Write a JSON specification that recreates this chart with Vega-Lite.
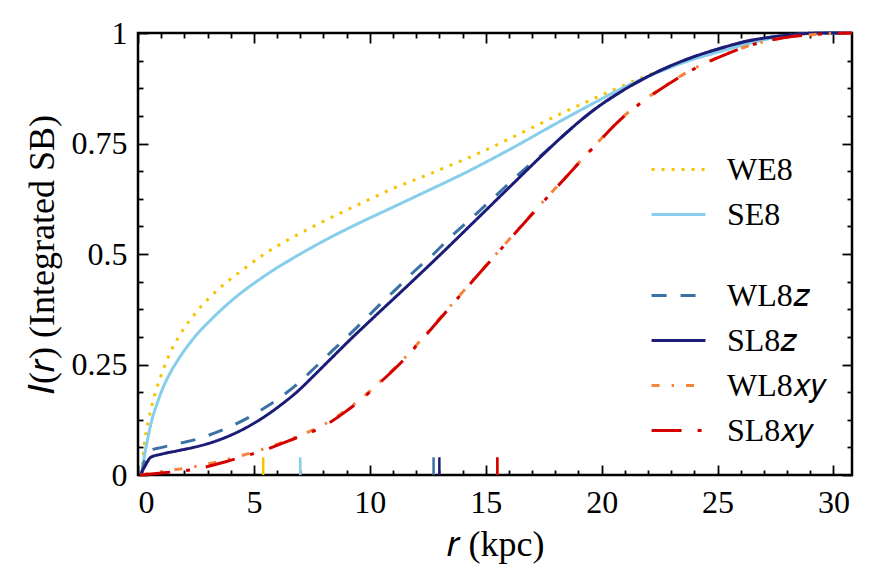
{
  "$schema": "https://vega.github.io/schema/vega-lite/v6.json",
  "description": "Integrated surface brightness I(r) versus radius for six galaxy models",
  "autosize": "none",
  "width": 714,
  "height": 442,
  "padding": {"left": 138, "top": 33, "right": 18, "bottom": 112},
  "background": "#ffffff",
  "datasets": {
    "curves": [
      {"series": "WE8", "r": 0.15, "I": 0},
      {"series": "WE8", "r": 0.3, "I": 0.08},
      {"series": "WE8", "r": 0.45, "I": 0.124},
      {"series": "WE8", "r": 0.6, "I": 0.158},
      {"series": "WE8", "r": 0.8, "I": 0.195},
      {"series": "WE8", "r": 1.1, "I": 0.24},
      {"series": "WE8", "r": 1.4, "I": 0.278},
      {"series": "WE8", "r": 1.82, "I": 0.318},
      {"series": "WE8", "r": 2.54, "I": 0.37},
      {"series": "WE8", "r": 3.55, "I": 0.424},
      {"series": "WE8", "r": 4.56, "I": 0.466},
      {"series": "WE8", "r": 5.45, "I": 0.5},
      {"series": "WE8", "r": 6.44, "I": 0.531},
      {"series": "WE8", "r": 8.0, "I": 0.574},
      {"series": "WE8", "r": 9.75, "I": 0.618},
      {"series": "WE8", "r": 11.0, "I": 0.648},
      {"series": "WE8", "r": 12.38, "I": 0.677},
      {"series": "WE8", "r": 14.83, "I": 0.731},
      {"series": "WE8", "r": 16.5, "I": 0.773},
      {"series": "WE8", "r": 18.35, "I": 0.82},
      {"series": "WE8", "r": 19.93, "I": 0.858},
      {"series": "WE8", "r": 21.51, "I": 0.894},
      {"series": "WE8", "r": 22.9, "I": 0.923},
      {"series": "WE8", "r": 24.3, "I": 0.948},
      {"series": "WE8", "r": 25.5, "I": 0.966},
      {"series": "WE8", "r": 26.5, "I": 0.98},
      {"series": "WE8", "r": 27.5, "I": 0.99},
      {"series": "WE8", "r": 28.5, "I": 0.997},
      {"series": "WE8", "r": 29.5, "I": 1},
      {"series": "WE8", "r": 30.8, "I": 1},

      {"series": "SE8", "r": 0.15, "I": 0},
      {"series": "SE8", "r": 0.3, "I": 0.05},
      {"series": "SE8", "r": 0.45, "I": 0.09},
      {"series": "SE8", "r": 0.6, "I": 0.125},
      {"series": "SE8", "r": 0.8, "I": 0.158},
      {"series": "SE8", "r": 1.1, "I": 0.2},
      {"series": "SE8", "r": 1.4, "I": 0.232},
      {"series": "SE8", "r": 1.82, "I": 0.268},
      {"series": "SE8", "r": 2.54, "I": 0.318},
      {"series": "SE8", "r": 3.2, "I": 0.354},
      {"series": "SE8", "r": 3.98, "I": 0.392},
      {"series": "SE8", "r": 5.42, "I": 0.449},
      {"series": "SE8", "r": 7.0, "I": 0.5},
      {"series": "SE8", "r": 8.17, "I": 0.534},
      {"series": "SE8", "r": 9.5, "I": 0.569},
      {"series": "SE8", "r": 11.0, "I": 0.606},
      {"series": "SE8", "r": 12.21, "I": 0.636},
      {"series": "SE8", "r": 14.2, "I": 0.686},
      {"series": "SE8", "r": 16.05, "I": 0.737},
      {"series": "SE8", "r": 18.2, "I": 0.8},
      {"series": "SE8", "r": 19.64, "I": 0.841},
      {"series": "SE8", "r": 21.08, "I": 0.88},
      {"series": "SE8", "r": 22.52, "I": 0.913},
      {"series": "SE8", "r": 23.8, "I": 0.938},
      {"series": "SE8", "r": 24.97, "I": 0.956},
      {"series": "SE8", "r": 26.4, "I": 0.977},
      {"series": "SE8", "r": 27.5, "I": 0.99},
      {"series": "SE8", "r": 28.5, "I": 0.997},
      {"series": "SE8", "r": 29.5, "I": 1},
      {"series": "SE8", "r": 30.8, "I": 1},

      {"series": "WL8𝑧", "r": 0.15, "I": 0},
      {"series": "WL8𝑧", "r": 0.3, "I": 0.035},
      {"series": "WL8𝑧", "r": 0.52, "I": 0.055},
      {"series": "WL8𝑧", "r": 1.0, "I": 0.062},
      {"series": "WL8𝑧", "r": 1.82, "I": 0.072},
      {"series": "WL8𝑧", "r": 2.6, "I": 0.082},
      {"series": "WL8𝑧", "r": 3.26, "I": 0.094},
      {"series": "WL8𝑧", "r": 4.0, "I": 0.11},
      {"series": "WL8𝑧", "r": 4.7, "I": 0.128},
      {"series": "WL8𝑧", "r": 5.4, "I": 0.15},
      {"series": "WL8𝑧", "r": 6.15, "I": 0.176},
      {"series": "WL8𝑧", "r": 6.9, "I": 0.207},
      {"series": "WL8𝑧", "r": 7.59, "I": 0.241},
      {"series": "WL8𝑧", "r": 8.3, "I": 0.277},
      {"series": "WL8𝑧", "r": 9.03, "I": 0.313},
      {"series": "WL8𝑧", "r": 9.75, "I": 0.35},
      {"series": "WL8𝑧", "r": 10.48, "I": 0.388},
      {"series": "WL8𝑧", "r": 11.2, "I": 0.424},
      {"series": "WL8𝑧", "r": 11.92, "I": 0.461},
      {"series": "WL8𝑧", "r": 12.75, "I": 0.5},
      {"series": "WL8𝑧", "r": 13.46, "I": 0.537},
      {"series": "WL8𝑧", "r": 14.47, "I": 0.585},
      {"series": "WL8𝑧", "r": 15.4, "I": 0.63},
      {"series": "WL8𝑧", "r": 16.4, "I": 0.679},
      {"series": "WL8𝑧", "r": 17.63, "I": 0.734},
      {"series": "WL8𝑧", "r": 18.2, "I": 0.761},
      {"series": "WL8𝑧", "r": 19.64, "I": 0.825},
      {"series": "WL8𝑧", "r": 21.08, "I": 0.875},
      {"series": "WL8𝑧", "r": 22.52, "I": 0.915},
      {"series": "WL8𝑧", "r": 23.96, "I": 0.946},
      {"series": "WL8𝑧", "r": 24.97, "I": 0.963},
      {"series": "WL8𝑧", "r": 26.4, "I": 0.983},
      {"series": "WL8𝑧", "r": 27.84, "I": 0.994},
      {"series": "WL8𝑧", "r": 28.56, "I": 0.998},
      {"series": "WL8𝑧", "r": 29.5, "I": 1},
      {"series": "WL8𝑧", "r": 30.8, "I": 1},

      {"series": "SL8𝑧", "r": 0.1, "I": 0},
      {"series": "SL8𝑧", "r": 0.3, "I": 0.02},
      {"series": "SL8𝑧", "r": 0.55, "I": 0.04},
      {"series": "SL8𝑧", "r": 1.0, "I": 0.047},
      {"series": "SL8𝑧", "r": 1.82, "I": 0.056},
      {"series": "SL8𝑧", "r": 2.6, "I": 0.065},
      {"series": "SL8𝑧", "r": 3.26, "I": 0.075},
      {"series": "SL8𝑧", "r": 4.0, "I": 0.09},
      {"series": "SL8𝑧", "r": 4.7, "I": 0.108},
      {"series": "SL8𝑧", "r": 5.4, "I": 0.13},
      {"series": "SL8𝑧", "r": 6.15, "I": 0.158},
      {"series": "SL8𝑧", "r": 6.9, "I": 0.19},
      {"series": "SL8𝑧", "r": 7.59, "I": 0.225},
      {"series": "SL8𝑧", "r": 8.3, "I": 0.262},
      {"series": "SL8𝑧", "r": 9.03, "I": 0.3},
      {"series": "SL8𝑧", "r": 9.75, "I": 0.336},
      {"series": "SL8𝑧", "r": 10.48, "I": 0.372},
      {"series": "SL8𝑧", "r": 11.34, "I": 0.414},
      {"series": "SL8𝑧", "r": 12.21, "I": 0.457},
      {"series": "SL8𝑧", "r": 13.07, "I": 0.5},
      {"series": "SL8𝑧", "r": 14.5, "I": 0.573},
      {"series": "SL8𝑧", "r": 16.0, "I": 0.65},
      {"series": "SL8𝑧", "r": 17.63, "I": 0.733},
      {"series": "SL8𝑧", "r": 18.2, "I": 0.761},
      {"series": "SL8𝑧", "r": 19.64, "I": 0.825},
      {"series": "SL8𝑧", "r": 21.08, "I": 0.875},
      {"series": "SL8𝑧", "r": 22.52, "I": 0.915},
      {"series": "SL8𝑧", "r": 23.96, "I": 0.946},
      {"series": "SL8𝑧", "r": 24.97, "I": 0.963},
      {"series": "SL8𝑧", "r": 26.4, "I": 0.983},
      {"series": "SL8𝑧", "r": 27.84, "I": 0.994},
      {"series": "SL8𝑧", "r": 28.56, "I": 0.998},
      {"series": "SL8𝑧", "r": 29.5, "I": 1},
      {"series": "SL8𝑧", "r": 30.8, "I": 1},

      {"series": "WL8𝑥𝑦", "r": 0.1, "I": 0},
      {"series": "WL8𝑥𝑦", "r": 1.1, "I": 0.008},
      {"series": "WL8𝑥𝑦", "r": 2.54, "I": 0.02},
      {"series": "WL8𝑥𝑦", "r": 3.98, "I": 0.037},
      {"series": "WL8𝑥𝑦", "r": 5.42, "I": 0.059},
      {"series": "WL8𝑥𝑦", "r": 6.87, "I": 0.087},
      {"series": "WL8𝑥𝑦", "r": 7.6, "I": 0.103},
      {"series": "WL8𝑥𝑦", "r": 8.31, "I": 0.123},
      {"series": "WL8𝑥𝑦", "r": 9.0, "I": 0.148},
      {"series": "WL8𝑥𝑦", "r": 9.75, "I": 0.178},
      {"series": "WL8𝑥𝑦", "r": 10.5, "I": 0.214},
      {"series": "WL8𝑥𝑦", "r": 11.34, "I": 0.256},
      {"series": "WL8𝑥𝑦", "r": 12.04, "I": 0.296},
      {"series": "WL8𝑥𝑦", "r": 12.74, "I": 0.338},
      {"series": "WL8𝑥𝑦", "r": 14.47, "I": 0.442},
      {"series": "WL8𝑥𝑦", "r": 15.47, "I": 0.501},
      {"series": "WL8𝑥𝑦", "r": 16.91, "I": 0.586},
      {"series": "WL8𝑥𝑦", "r": 18.5, "I": 0.677},
      {"series": "WL8𝑥𝑦", "r": 19.5, "I": 0.734},
      {"series": "WL8𝑥𝑦", "r": 20.94, "I": 0.811},
      {"series": "WL8𝑥𝑦", "r": 22.52, "I": 0.873},
      {"series": "WL8𝑥𝑦", "r": 23.96, "I": 0.919},
      {"series": "WL8𝑥𝑦", "r": 24.97, "I": 0.944},
      {"series": "WL8𝑥𝑦", "r": 26.4, "I": 0.972},
      {"series": "WL8𝑥𝑦", "r": 27.84, "I": 0.989},
      {"series": "WL8𝑥𝑦", "r": 29.3, "I": 0.997},
      {"series": "WL8𝑥𝑦", "r": 30.8, "I": 1},

      {"series": "SL8𝑥𝑦", "r": 0.1, "I": 0},
      {"series": "SL8𝑥𝑦", "r": 1.1, "I": 0.005},
      {"series": "SL8𝑥𝑦", "r": 2.54, "I": 0.014},
      {"series": "SL8𝑥𝑦", "r": 3.98, "I": 0.033},
      {"series": "SL8𝑥𝑦", "r": 5.42, "I": 0.056},
      {"series": "SL8𝑥𝑦", "r": 6.87, "I": 0.085},
      {"series": "SL8𝑥𝑦", "r": 7.6, "I": 0.1},
      {"series": "SL8𝑥𝑦", "r": 8.31, "I": 0.12},
      {"series": "SL8𝑥𝑦", "r": 9.0, "I": 0.145},
      {"series": "SL8𝑥𝑦", "r": 9.75, "I": 0.176},
      {"series": "SL8𝑥𝑦", "r": 10.5, "I": 0.212},
      {"series": "SL8𝑥𝑦", "r": 11.34, "I": 0.254},
      {"series": "SL8𝑥𝑦", "r": 12.04, "I": 0.294},
      {"series": "SL8𝑥𝑦", "r": 12.74, "I": 0.336},
      {"series": "SL8𝑥𝑦", "r": 14.47, "I": 0.441},
      {"series": "SL8𝑥𝑦", "r": 15.47, "I": 0.5},
      {"series": "SL8𝑥𝑦", "r": 16.91, "I": 0.585},
      {"series": "SL8𝑥𝑦", "r": 18.5, "I": 0.676},
      {"series": "SL8𝑥𝑦", "r": 19.5, "I": 0.733},
      {"series": "SL8𝑥𝑦", "r": 20.94, "I": 0.81},
      {"series": "SL8𝑥𝑦", "r": 22.52, "I": 0.872},
      {"series": "SL8𝑥𝑦", "r": 23.96, "I": 0.918},
      {"series": "SL8𝑥𝑦", "r": 24.97, "I": 0.943},
      {"series": "SL8𝑥𝑦", "r": 26.4, "I": 0.972},
      {"series": "SL8𝑥𝑦", "r": 27.84, "I": 0.989},
      {"series": "SL8𝑥𝑦", "r": 29.3, "I": 0.997},
      {"series": "SL8𝑥𝑦", "r": 30.8, "I": 1}
    ],
    "halflight": [
      {"series": "WE8", "r": 5.4},
      {"series": "SE8", "r": 7.0},
      {"series": "WL8𝑧", "r": 12.75},
      {"series": "SL8𝑧", "r": 13.0},
      {"series": "WL8𝑥𝑦", "r": 15.5},
      {"series": "SL8𝑥𝑦", "r": 15.5}
    ]
  },
  "layer": [
    {
      "data": {"name": "curves"},
      "transform": [{"filter": {"field": "series", "oneOf": ["WE8", "SE8"]}}],
      "mark": {"type": "line", "strokeWidth": 3, "interpolate": "monotone"},
      "encoding": {
        "x": {
          "field": "r", "type": "quantitative",
          "scale": {"domain": [0, 30.8], "nice": false, "zero": false},
          "axis": {
            "orient": "bottom", "values": [0, 5, 10, 15, 20, 25, 30],
            "tickSize": -10, "labelPadding": 22,
            "labelFont": "Liberation Serif", "labelFontSize": 32,
            "title": "𝑟  (kpc)", "titleFont": "Liberation Serif", "titleFontSize": 36, "titlePadding": 9
          }
        },
        "y": {
          "field": "I", "type": "quantitative",
          "scale": {"domain": [0, 1], "nice": false},
          "axis": {
            "orient": "left", "values": [0, 0.25, 0.5, 0.75, 1],
            "labelExpr": "'' + datum.value",
            "tickSize": -10, "labelPadding": 21,
            "labelFont": "Liberation Serif", "labelFontSize": 32,
            "title": "𝐼(𝑟)  (Integrated SB)", "titleFont": "Liberation Serif", "titleFontSize": 36, "titlePadding": 10
          }
        },
        "color": {
          "field": "series", "type": "nominal",
          "scale": {"domain": ["WE8", "SE8"], "range": ["#f5c400", "#87ceeb"]},
          "legend": {"orient": "none", "legendX": 512, "legendY": 108}
        },
        "strokeDash": {
          "field": "series", "type": "nominal",
          "scale": {"domain": ["WE8", "SE8"], "range": [[3, 7], [1, 0]]}
        }
      }
    },
    {
      "data": {"name": "curves"},
      "transform": [{"filter": {"field": "series", "oneOf": ["WL8𝑧", "SL8𝑧", "WL8𝑥𝑦", "SL8𝑥𝑦"]}}],
      "mark": {"type": "line", "strokeWidth": 3, "interpolate": "monotone"},
      "encoding": {
        "x": {
          "field": "r", "type": "quantitative",
          "scale": {"domain": [0, 30.8], "nice": false, "zero": false},
          "axis": {"orient": "top", "values": [0, 5, 10, 15, 20, 25, 30], "tickSize": -10, "labels": false, "title": null}
        },
        "y": {
          "field": "I", "type": "quantitative",
          "scale": {"domain": [0, 1], "nice": false},
          "axis": {"orient": "right", "values": [0, 0.25, 0.5, 0.75, 1], "tickSize": -10, "labels": false, "title": null}
        },
        "color": {
          "field": "series", "type": "nominal",
          "scale": {"domain": ["WL8𝑧", "SL8𝑧", "WL8𝑥𝑦", "SL8𝑥𝑦"], "range": ["#3a72a6", "#1c1c78", "#f5843c", "#d40000"]},
          "legend": {"orient": "none", "legendX": 512, "legendY": 234}
        },
        "strokeDash": {
          "field": "series", "type": "nominal",
          "scale": {"domain": ["WL8𝑧", "SL8𝑧", "WL8𝑥𝑦", "SL8𝑥𝑦"], "range": [[15, 14], [1, 0], [8, 12, 2.5, 12], [30, 16, 4, 16]]}
        }
      }
    },
    {
      "mark": {"type": "rule", "color": "#000000", "strokeWidth": 2, "strokeDash": [15, 16]},
      "encoding": {
        "x": {
          "datum": 0, "type": "quantitative",
          "scale": {"domain": [0, 30.8], "nice": false, "zero": false},
          "axis": {
            "orient": "bottom", "values": [1, 2, 3, 4, 6, 7, 8, 9, 11, 12, 13, 14, 16, 17, 18, 19, 21, 22, 23, 24, 26, 27, 28, 29],
            "tickSize": -5, "labels": false, "title": null
          }
        },
        "x2": {"datum": 30.8},
        "y": {
          "datum": 0.5, "type": "quantitative",
          "scale": {"domain": [0, 1], "nice": false},
          "axis": {
            "orient": "left", "values": [0.0625, 0.125, 0.1875, 0.3125, 0.375, 0.4375, 0.5625, 0.625, 0.6875, 0.8125, 0.875, 0.9375],
            "tickSize": -5, "labels": false, "title": null
          }
        }
      }
    },
    {
      "data": {"name": "halflight"},
      "mark": {"type": "rule", "strokeWidth": 2.5},
      "encoding": {
        "x": {
          "field": "r", "type": "quantitative",
          "scale": {"domain": [0, 30.8], "nice": false, "zero": false},
          "axis": {
            "orient": "top", "values": [1, 2, 3, 4, 6, 7, 8, 9, 11, 12, 13, 14, 16, 17, 18, 19, 21, 22, 23, 24, 26, 27, 28, 29],
            "tickSize": -5, "labels": false, "title": null
          }
        },
        "y": {
          "datum": 0, "type": "quantitative",
          "scale": {"domain": [0, 1], "nice": false},
          "axis": {
            "orient": "right", "values": [0.0625, 0.125, 0.1875, 0.3125, 0.375, 0.4375, 0.5625, 0.625, 0.6875, 0.8125, 0.875, 0.9375],
            "tickSize": -5, "labels": false, "title": null
          }
        },
        "y2": {"datum": 0.04},
        "color": {
          "field": "series", "type": "nominal",
          "scale": {
            "domain": ["WE8", "SE8", "WL8𝑧", "SL8𝑧", "WL8𝑥𝑦", "SL8𝑥𝑦"],
            "range": ["#f5c400", "#87ceeb", "#3a72a6", "#1c1c78", "#f5843c", "#d40000"]
          },
          "legend": null
        }
      }
    }
  ],
  "resolve": {
    "scale": {"color": "independent", "strokeDash": "independent"},
    "axis": {"x": "independent", "y": "independent"}
  },
  "config": {
    "font": "Liberation Serif",
    "view": {"stroke": "#000000", "strokeWidth": 2.5},
    "axis": {
      "domain": false,
      "grid": false,
      "tickColor": "#000000",
      "tickWidth": 1.8,
      "labelColor": "#000000",
      "titleColor": "#000000",
      "labelFont": "Liberation Serif",
      "titleFont": "Liberation Serif",
      "titleFontWeight": "normal"
    },
    "legend": {
      "title": null,
      "padding": 0,
      "labelFont": "Liberation Serif",
      "labelFontSize": 32,
      "labelColor": "#000000",
      "labelOffset": 20,
      "symbolType": "stroke",
      "symbolSize": 2900,
      "symbolStrokeWidth": 3,
      "rowPadding": -3
    }
  }
}
